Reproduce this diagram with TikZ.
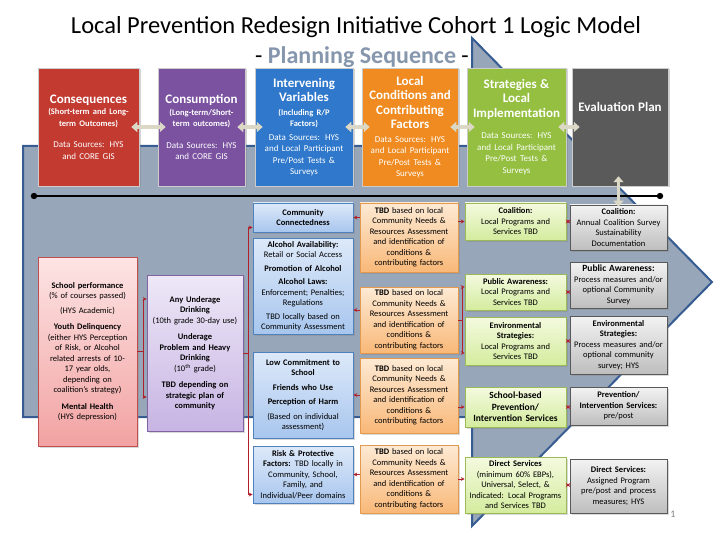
\documentclass[tikz,border=0pt]{standalone}
\usepackage{fontspec}
\setmainfont{Carlito}
\usetikzlibrary{arrows.meta,shadows}

\definecolor{arrowfill}{HTML}{97A6B8}
\definecolor{arrowline}{HTML}{365C92}
\definecolor{subgray}{HTML}{8596AD}
\definecolor{consred}{HTML}{C23A30}
\definecolor{conspurple}{HTML}{7B52A0}
\definecolor{intblue}{HTML}{2F78CB}
\definecolor{locorange}{HTML}{EF8B20}
\definecolor{stratgreen}{HTML}{94BF40}
\definecolor{evalgray}{HTML}{5A5A5A}
\definecolor{linkred}{HTML}{B0202A}
\definecolor{fatbeige}{HTML}{DCD8C6}
\definecolor{riskline}{HTML}{C0504D}
\definecolor{risktop}{HTML}{FDE4E4}
\definecolor{riskbot}{HTML}{F2A2A2}
\definecolor{purline}{HTML}{8064A2}
\definecolor{purtop}{HTML}{EEE8F7}
\definecolor{purbot}{HTML}{C7B4E3}
\definecolor{blueline}{HTML}{4F81BD}
\definecolor{bluetop}{HTML}{DDE9F9}
\definecolor{bluebot}{HTML}{A8C6EE}
\definecolor{orgline}{HTML}{E39A4C}
\definecolor{orgtop}{HTML}{FDEAD4}
\definecolor{orgbot}{HTML}{F9B878}
\definecolor{grnline}{HTML}{9BBB59}
\definecolor{grntop}{HTML}{F4FADF}
\definecolor{grnbot}{HTML}{D4EC9E}
\definecolor{gryline}{HTML}{595959}
\definecolor{grytop}{HTML}{F3F3F3}
\definecolor{grybot}{HTML}{BEBEBE}

\newcommand{\lmhead}[1]{{\fontsize{13}{14.5}\selectfont\bfseries #1\par}}
\newcommand{\lmsub}[1]{{\fontsize{8.5}{11.5}\selectfont\bfseries #1\par}}
\newcommand{\lmsrc}[1]{{\fontsize{9}{11.5}\selectfont #1\par}}

\begin{document}
\begin{tikzpicture}[x=1pt,y=-1pt,>={Stealth[length=4pt,width=4pt]}]
  \tikzstyle{topbox}=[rectangle,draw=white!60!gray,line width=0.5pt,text=white,align=center,inner sep=2pt,minimum height=118pt,drop shadow={shadow xshift=1.5pt,shadow yshift=-1.5pt,opacity=0.35}]
  \tikzstyle{lowbox}=[rectangle,line width=0.6pt,align=center,inner sep=2pt,font=\fontsize{8.5}{10.5}\selectfont,drop shadow={shadow xshift=1.5pt,shadow yshift=-1.5pt,opacity=0.3}]
  \tikzstyle{riskbox}=[lowbox,draw=riskline,top color=risktop,bottom color=riskbot]
  \tikzstyle{link}=[draw=linkred,line width=0.8pt]
  \tikzstyle{fat}=[draw=fatbeige,line width=3.5pt,{Triangle[width=10pt,length=6pt]}-{Triangle[width=10pt,length=6pt]}]

  \useasboundingbox (0,0) rectangle (720,540);

  % big arrow behind everything
  \draw[fill=arrowfill,draw=arrowline,line width=2pt,line join=miter]
    (23,146) -- (472,146) -- (472,38) -- (712,282) -- (472,526) -- (472,417) -- (23,417) -- cycle;

  \node[font=\fontsize{24.5}{28}\selectfont] (title) at (356,27) {Local Prevention Redesign Initiative Cohort 1 Logic Model};
  \node[font=\fontsize{24}{26}\selectfont] (subtitle) at (362,57) {- \textcolor{subgray}{\bfseries Planning Sequence} -};

  % top row
  \node[topbox,fill=consred,minimum width=101pt,text width=97pt] (cons) at (88.5,127)
    {\lmhead{Consequences}\lmsub{(Short-term and Long-\\term Outcomes)}\vskip 10pt\lmsrc{Data Sources: HYS\\and CORE GIS}};
  \node[topbox,fill=conspurple,minimum width=87pt,text width=83pt] (consu) at (201.5,127)
    {\lmhead{Consumption}\lmsub{(Long-term/Short-\\term outcomes)}\vskip 10pt\lmsrc{Data Sources: HYS\\and CORE GIS}};
  \node[topbox,fill=intblue,minimum width=98pt,text width=94pt] (interv) at (304,127)
    {\lmhead{Intervening\\Variables}\vskip 2pt\lmsub{(Including R/P\\Factors)}\vskip 2pt\lmsrc{Data Sources: HYS\\and Local Participant\\Pre/Post Tests \&\\Surveys}};
  \node[topbox,fill=locorange,minimum width=96pt,text width=92pt] (locc) at (410,127)
    {\lmhead{Local\\Conditions and\\Contributing\\Factors}\vskip 2pt\lmsrc{Data Sources: HYS\\and Local Participant\\Pre/Post Tests \&\\Surveys}};
  \node[topbox,fill=stratgreen,minimum width=99pt,text width=95pt] (strat) at (516.5,127)
    {\lmhead{Strategies \&\\Local\\Implementation}\vskip 10pt\lmsrc{Data Sources: HYS\\and Local Participant\\Pre/Post Tests \&\\Surveys}};
  \node[topbox,fill=evalgray,minimum width=96pt,text width=92pt] (evalp) at (620,127)
    {\lmhead{Evaluation Plan}\vskip 28pt\null};

  \foreach \a/\b in {cons/consu,consu/interv,interv/locc,locc/strat,strat/evalp}
    \draw[fat] ([xshift=-8pt]\a.east) -- ([xshift=8pt]\b.west);

  \coordinate (tl) at (34,196);
  \coordinate (tr) at (660,196);
  \draw[line width=1.5pt] (tl) -- (tr);
  \fill (tl) circle (3.2pt);
  \fill (tr) circle (3.2pt);

  % outcomes
  \node[riskbox,minimum width=99pt,text width=95pt,minimum height=189pt] (sch) at (87.5,351.5)
    {\textbf{School performance}\\(\% of courses passed)\par\vskip 4pt
     (HYS Academic)\par\vskip 6pt
     \textbf{Youth Delinquency}\\(either HYS Perception\\of Risk, or Alcohol\\related arrests of 10-\\17 year olds,\\depending on\\coalition's strategy)\par\vskip 6pt
     \textbf{Mental Health}\\(HYS depression)};
  \node[lowbox,draw=purline,top color=purtop,bottom color=purbot,minimum width=96pt,text width=92pt,minimum height=156pt] (pur) at (195,353)
    {\textbf{Any Underage}\\\textbf{Drinking}\\(10th grade 30-day use)\par\vskip 6pt
     \textbf{Underage}\\\textbf{Problem and Heavy}\\\textbf{Drinking}\\(10\textsuperscript{th} grade)\par\vskip 6pt
     \textbf{TBD depending on}\\\textbf{strategic plan of}\\\textbf{community}};

  % intervening variables
  \tikzstyle{bluebox}=[lowbox,draw=blueline,top color=bluetop,bottom color=bluebot,minimum width=100pt,text width=96pt]
  \node[bluebox,minimum height=29pt] (cc) at (303,217.5) {\textbf{Community}\\\textbf{Connectedness}};
  \node[bluebox,minimum height=96pt] (aa) at (303,286)
    {\textbf{Alcohol Availability:}\\Retail or Social Access\par\vskip 3pt
     \textbf{Promotion of Alcohol}\par\vskip 3pt
     \textbf{Alcohol Laws:}\\Enforcement; Penalties;\\Regulations\par\vskip 3pt
     TBD locally based on\\Community Assessment};
  \node[bluebox,minimum height=86pt] (lc) at (303,395)
    {\textbf{Low Commitment to}\\\textbf{School}\par\vskip 4pt
     \textbf{Friends who Use}\par\vskip 4pt
     \textbf{Perception of Harm}\par\vskip 4pt
     (Based on individual\\assessment)};
  \node[bluebox,minimum height=57pt] (rp) at (303,474.5)
    {\textbf{Risk \& Protective}\\\textbf{Factors:} TBD locally in\\Community, School,\\Family, and\\Individual/Peer domains};

  % local conditions
  \tikzstyle{orgbox}=[lowbox,draw=orgline,top color=orgtop,bottom color=orgbot,minimum width=98pt,text width=94pt]
  \node[orgbox,minimum height=69pt] (o1) at (409,237.5) {\textbf{TBD} based on local\\Community Needs \&\\Resources Assessment\\and identification of\\conditions \&\\contributing factors};
  \node[orgbox,minimum height=66pt] (o2) at (409,320) {\textbf{TBD} based on local\\Community Needs \&\\Resources Assessment\\and identification of\\conditions \&\\contributing factors};
  \node[orgbox,minimum height=75pt] (o3) at (409,395.5) {\textbf{TBD} based on local\\Community Needs \&\\Resources Assessment\\and identification of\\conditions \&\\contributing factors};
  \node[orgbox,minimum height=68pt] (o4) at (409,479) {\textbf{TBD} based on local\\Community Needs \&\\Resources Assessment\\and identification of\\conditions \&\\contributing factors};

  % strategies
  \tikzstyle{grnbox}=[lowbox,draw=grnline,top color=grntop,bottom color=grnbot,minimum width=101pt,text width=97pt]
  \node[grnbox,minimum height=37pt] (g1) at (515.5,221.5) {\textbf{Coalition:}\\Local Programs and\\Services TBD};
  \node[grnbox,minimum height=36pt] (g2) at (515.5,292) {\textbf{Public Awareness:}\\Local Programs and\\Services TBD};
  \node[grnbox,minimum height=48pt] (g3) at (515.5,341) {\textbf{Environmental}\\\textbf{Strategies:}\\Local Programs and\\Services TBD};
  \node[grnbox,minimum height=40pt,font=\fontsize{9.5}{11.5}\selectfont] (g4) at (515.5,407) {\textbf{School-based}\\\textbf{Prevention/}\\\textbf{Intervention Services}};
  \node[grnbox,minimum height=56pt] (g5) at (515.5,485) {\textbf{Direct Services}\\(minimum 60\% EBPs),\\Universal, Select, \&\\Indicated: Local Programs\\and Services TBD};

  % evaluation
  \tikzstyle{grybox}=[lowbox,draw=gryline,top color=grytop,bottom color=grybot,minimum width=97pt,text width=93pt]
  \node[grybox,minimum height=45pt] (e1) at (618.5,227.5) {\textbf{Coalition:}\\Annual Coalition Survey\\Sustainability\\Documentation};
  \node[grybox,minimum height=46pt] (e2) at (618.5,285) {{\fontsize{9.5}{11}\selectfont\textbf{Public Awareness:}}\\Process measures and/or\\optional Community\\Survey};
  \node[grybox,minimum height=58pt] (e3) at (618.5,345) {\textbf{Environmental}\\\textbf{Strategies:}\\Process measures and/or\\optional community\\survey; HYS};
  \node[grybox,minimum height=38pt] (e4) at (618.5,406) {\textbf{Prevention/}\\\textbf{Intervention Services:}\\pre/post};
  \node[grybox,minimum height=54pt] (e5) at (618.5,486) {\textbf{Direct Services:}\\Assigned Program\\pre/post and process\\measures; HYS};

  \draw[fat] ([yshift=10pt]e1.north |- evalp.south) -- ([yshift=-2pt]e1.north);

  % red connectors
  \coordinate (lbr) at (143,0);
  \coordinate (lbus) at (248,0);
  \coordinate (rbr) at (462,0);
  \draw[link] (sch.east) -- (sch.east -| lbr);
  \draw[link,<->] ([yshift=54pt]pur.west) -| ([yshift=-44pt]pur.west -| lbr) -- ([yshift=-44pt]pur.west);
  \draw[link] (pur.east) -- (pur.east -| lbus);
  \draw[link,<->] ([yshift=-10pt]cc.west) -| ([yshift=-20pt]rp.west -| lbus) -- ([yshift=-20pt]rp.west);

  \draw[link,<-] (cc.east) -- (cc.east -| o1.west);
  \draw[link,<-] ([yshift=-24pt]aa.east) -- ([yshift=-24pt]aa.east -| o2.west);
  \draw[link,<-] (lc.east) -- (lc.east -| o3.west);
  \draw[link,<-] (rp.east) -- (rp.east -| o4.west);

  \draw[link,->] (g1.west -| o1.east) -- (g1.west);
  \draw[link] (o2.east) -- (o2.east -| rbr);
  \draw[link,<->] ([yshift=5pt]g2.west) -| ([yshift=-12pt]g3.west -| rbr) -- ([yshift=-12pt]g3.west);
  \draw[link,->] (o3.east |- g4.west) -- (g4.west);
  \draw[link,->] (o4.east) -- (o4.east -| g5.west);

  \foreach \g/\e in {g1/e1,g2/e2,g3/e3,g4/e4,g5/e5}
    \draw[link,<->] (\g.east) -- (\g.east -| \e.west);

  \node[text=gray,font=\fontsize{10}{12}\selectfont] (pgnum) at (673,514) {1};
\end{tikzpicture}
\end{document}
